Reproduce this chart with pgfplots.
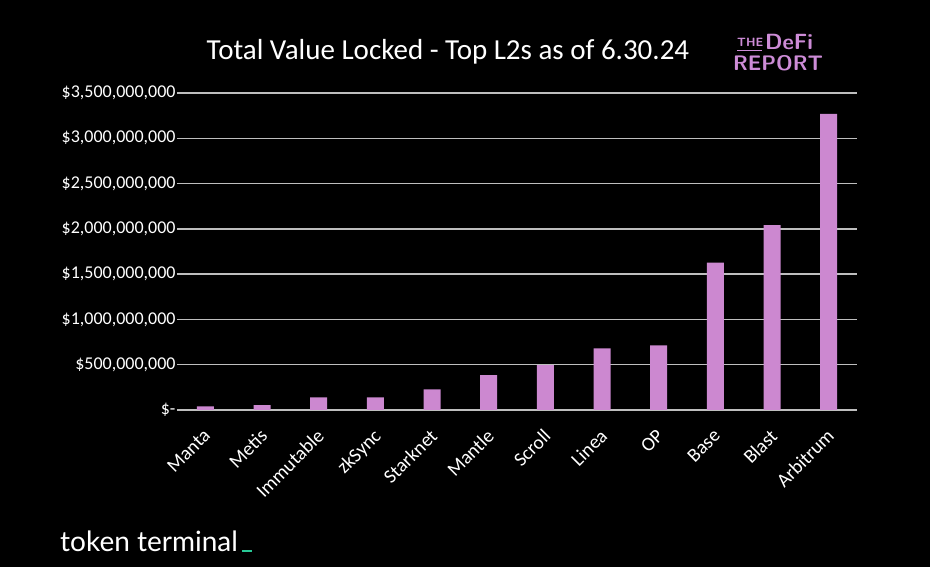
\documentclass[border=0pt]{standalone}
\usepackage{pgfplots}
\pgfplotsset{compat=1.18}
\usepackage{fontspec}
\setmainfont{Carlito}
\newfontfamily\ttermfont{Lato}
\definecolor{barc}{RGB}{204,136,208}
\definecolor{logoc}{RGB}{205,140,215}
\definecolor{gridc}{RGB}{190,190,190}
\definecolor{ttgreen}{RGB}{40,200,150}
\begin{document}
\begin{tikzpicture}[x=1pt,y=1pt]
\fill[black] (0,0) rectangle (930,567);
\useasboundingbox (0,0) rectangle (930,567);
\begin{axis}[
  at={(177pt,157pt)}, anchor=south west,
  width=680pt, height=317pt, scale only axis,
  xmin=-0.5, xmax=11.5, ymin=0, ymax=3.5e9,
  axis line style={draw=none},
  major tick length=0pt,
  ymajorgrids, grid style={line width=1.5pt, color=gridc},
  ytick={0,5e8,1e9,1.5e9,2e9,2.5e9,3e9,3.5e9},
  yticklabels={{\$-},{\$500,000,000},{\$1,000,000,000},{\$1,500,000,000},{\$2,000,000,000},{\$2,500,000,000},{\$3,000,000,000},{\$3,500,000,000}},
  scaled y ticks=false,
  yticklabel style={font=\fontsize{18}{21}\selectfont, text=white, xshift=2pt},
  xtick={0,...,11},
  xticklabels={Manta,Metis,Immutable,zkSync,Starknet,Mantle,Scroll,Linea,OP,Base,Blast,Arbitrum},
  xticklabel style={font=\fontsize{19.5}{22}\selectfont, text=white, xshift=-3pt, yshift=-13pt, rotate=45, anchor=north east},
  clip=false,
]
\addplot[ybar, bar width=17pt, fill=barc, draw=none] coordinates {
 (0,40e6) (1,55e6) (2,140e6) (3,140e6) (4,228e6) (5,386e6)
 (6,495e6) (7,680e6) (8,714e6) (9,1626e6) (10,2040e6) (11,3270e6)};
\end{axis}
\node[text=white, font=\fontsize{29}{33}\selectfont, anchor=base] at (448,507.7) {Total Value Locked - Top L2s as of 6.30.24};
% logo
\node[text=logoc, font=\fontsize{12}{13}\selectfont\bfseries\sffamily, anchor=base west, inner sep=0pt] at (737,520) {THE};
\draw[logoc, line width=1.2pt] (737,516.5) -- (762,516.5);
\node[text=logoc, font=\fontsize{22}{24}\selectfont\bfseries\sffamily, anchor=base west, inner sep=0pt] at (765,517) {DeFi};
\node[text=logoc, font=\fontsize{21}{24}\selectfont\bfseries\sffamily, anchor=base west, inner sep=0pt] at (733,496) {REPORT};
% token terminal
\node[text=white, font=\fontsize{28}{31}\selectfont\ttermfont, anchor=base west, inner sep=0pt] (tt) at (60,15.3) {token terminal};
\fill[ttgreen] (tt.base east) ++(4pt,0) rectangle ++(10pt,2pt);
\end{tikzpicture}
\end{document}
